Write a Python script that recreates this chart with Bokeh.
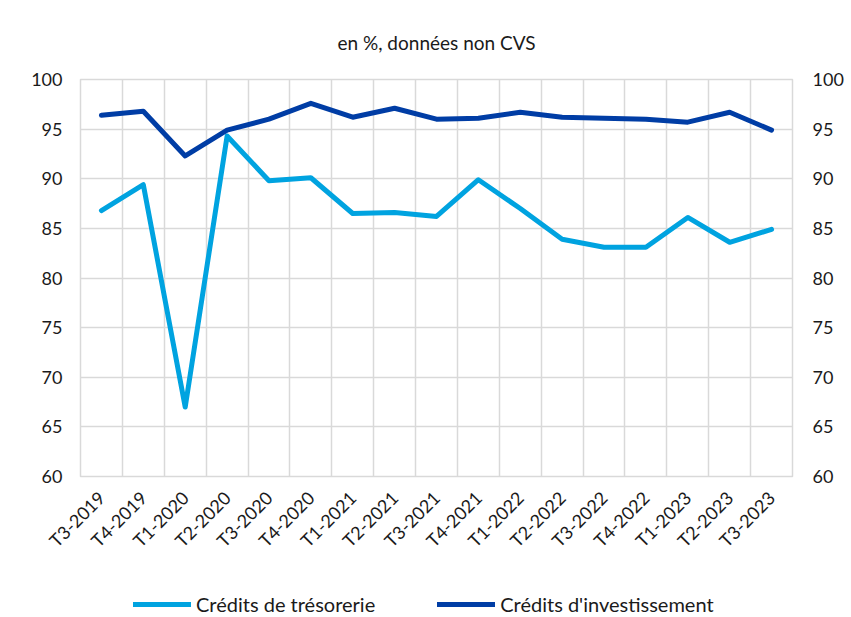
import math
from bokeh.plotting import figure
from bokeh.layouts import column
from bokeh.models import (Range1d, LinearAxis, FixedTicker, Legend, LegendItem, Title)
from bokeh.embed import file_html
from bokeh.resources import INLINE

categories = ["T3-2019", "T4-2019", "T1-2020", "T2-2020", "T3-2020", "T4-2020",
              "T1-2021", "T2-2021", "T3-2021", "T4-2021", "T1-2022", "T2-2022",
              "T3-2022", "T4-2022", "T1-2023", "T2-2023", "T3-2023"]
tresorerie = [86.8, 89.4, 67.0, 94.3, 89.8, 90.1, 86.5, 86.6, 86.2, 89.9, 87.0,
              83.9, 83.1, 83.1, 86.1, 83.6, 84.9]
investissement = [96.4, 96.8, 92.3, 94.9, 96.0, 97.6, 96.2, 97.1, 96.0, 96.1, 96.7,
                  96.2, 96.1, 96.0, 95.7, 96.7, 94.9]
y_ticks = [60, 65, 70, 75, 80, 85, 90, 95, 100]

FONT = "Lato"
COL_TRES = "#00A3E0"
COL_INV = "#003DA5"
xs = list(range(len(categories)))

p = figure(frame_width=712, frame_height=397, output_backend="svg", toolbar_location=None,
           x_range=Range1d(-0.5, len(categories) - 0.5), y_range=Range1d(60, 100),
           min_border_left=80, min_border_right=51, min_border_top=79,
           min_border_bottom=92)
p.outline_line_color = "#d9d9d9"
p.outline_line_width = 1.5

p.add_layout(Title(text="en %, données non CVS", align="center",
                   text_font=FONT, text_font_size="19px", text_font_style="normal",
                   text_color="#1a1a1a", standoff=52), "above")

# grids
p.xgrid.ticker = FixedTicker(ticks=[i - 0.5 for i in range(len(categories) + 1)])
p.ygrid.ticker = FixedTicker(ticks=y_ticks)
for g in (p.xgrid, p.ygrid):
    g.grid_line_color = "#d9d9d9"
    g.grid_line_width = 1.5

# x axis
xa = p.xaxis[0]
xa.ticker = FixedTicker(ticks=xs)
xa.major_label_overrides = {i: c for i, c in enumerate(categories)}
xa.major_label_orientation = math.pi / 4
xa.axis_line_color = None
xa.major_tick_line_color = None
xa.minor_tick_line_color = None
xa.major_label_text_font = FONT
xa.major_label_text_font_size = "18px"
xa.major_label_text_color = "#1a1a1a"
xa.major_label_standoff = 12

# left axis
ya = p.yaxis[0]
ya.ticker = FixedTicker(ticks=y_ticks)
ya.axis_line_color = None
ya.major_tick_line_color = None
ya.minor_tick_line_color = None
ya.major_label_text_font = FONT
ya.major_label_text_font_size = "18px"
ya.major_label_text_color = "#1a1a1a"
ya.major_label_standoff = 12

# right axis
ra = LinearAxis(ticker=FixedTicker(ticks=y_ticks))
ra.axis_line_color = None
ra.major_tick_line_color = None
ra.minor_tick_line_color = None
ra.major_label_text_font = FONT
ra.major_label_text_font_size = "18px"
ra.major_label_text_color = "#1a1a1a"
ra.major_label_standoff = 14
p.add_layout(ra, "right")

p.line(xs, tresorerie, line_color=COL_TRES, line_width=5, line_join="round",
       line_cap="round")
p.line(xs, investissement, line_color=COL_INV, line_width=5, line_join="round",
       line_cap="round")

# legend strip below the chart
lg = figure(width=843, height=49, output_backend="svg", toolbar_location=None,
            x_range=Range1d(0, 1), y_range=Range1d(0, 1),
            x_axis_location=None, y_axis_location=None, min_border=0)
lg.outline_line_color = None
lg.grid.visible = False
lr1 = lg.line(xs, tresorerie, line_color=COL_TRES, line_width=5, line_cap="round")
lr2 = lg.line(xs, investissement, line_color=COL_INV, line_width=5, line_cap="round")

legend = Legend(items=[LegendItem(label="Crédits de trésorerie", renderers=[lr1]),
                       LegendItem(label="Crédits d'investissement", renderers=[lr2])],
                orientation="horizontal", location=(53, 1),
                label_text_font=FONT, label_text_font_size="20px",
                label_text_color="#1a1a1a", glyph_width=58, label_standoff=5,
                spacing=62, border_line_color=None, background_fill_alpha=0,
                margin=0, padding=0)
lg.add_layout(legend, "center")

layout = column(p, lg, spacing=0)
open("out.html", "w").write(file_html(layout, INLINE))
